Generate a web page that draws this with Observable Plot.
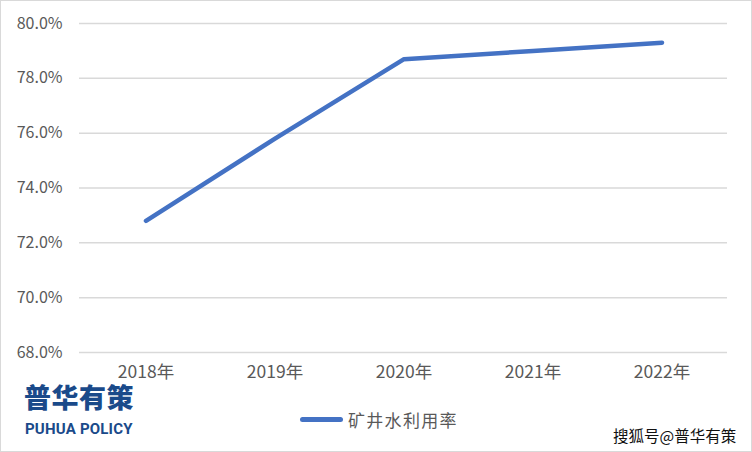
<!DOCTYPE html>
<html><head><meta charset="utf-8">
<script src="https://cdn.jsdelivr.net/npm/d3@7"></script>
<script src="https://cdn.jsdelivr.net/npm/@observablehq/plot@0.6"></script>
<style>
html,body{margin:0;padding:0;background:#fff;}
#wrap{position:relative;width:752px;height:452px;overflow:hidden;font-family:"Noto Sans CJK SC","Noto Sans",sans-serif;}
#frame{position:absolute;left:0;top:0;width:750px;height:450px;border:1px solid #d9d9d9;pointer-events:none;}
.abs{position:absolute;white-space:nowrap;}
</style></head>
<body><div id="wrap"><div id="chart"></div><div id="frame"></div></div>
<script>
const years = ["2018年","2019年","2020年","2021年","2022年"];
const rates = [72.8, 75.8, 78.7, 79.0, 79.3];
const yTicks = [68, 70, 72, 74, 76, 78, 80];
const seriesName = "矿井水利用率";
const logoCn = "普华有策";
const logoEn = "PUHUA POLICY";
const watermark = "搜狐号@普华有策";

const data = years.map((y, i) => ({year: y, rate: rates[i]}));
const chart = Plot.plot({
  width: 752, height: 452,
  marginLeft: 79, marginRight: 25, marginTop: 23, marginBottom: 100,
  style: {fontFamily: '"Noto Sans CJK SC","Noto Sans",sans-serif', fontSize: "16px", color: "#595959", background: "transparent"},
  x: {type: "band", domain: years, padding: 0, label: null, tickSize: 0, tickPadding: 13},
  y: {domain: [68, 80], ticks: yTicks, label: null, tickSize: 0, tickPadding: 17, tickFormat: d => d.toFixed(1) + "%"},
  marks: [
    Plot.ruleY(yTicks, {stroke: "#d9d9d9", strokeWidth: 1.5}),
    Plot.line(data, {x: "year", y: "rate", stroke: "#4472C4", strokeWidth: 4.5, strokeLinecap: "round", strokeLinejoin: "round"})
  ]
});
chart.querySelectorAll('[aria-label="x-axis tick label"] text').forEach(t => t.style.fontSize = "17.5px");
document.getElementById("chart").appendChild(chart);
const wrap = document.getElementById("wrap");
function add(text, css){const d=document.createElement("div");d.className="abs";d.textContent=text;Object.assign(d.style,css);wrap.appendChild(d);return d;}
add(logoCn, {left:"24px", top:"380px", fontSize:"27px", fontWeight:"900", color:"#1a4a8a", letterSpacing:"0.5px", lineHeight:"34px"});
add(logoEn, {left:"25px", top:"419px", fontSize:"15px", fontWeight:"700", color:"#1a4a8a", fontFamily:"Roboto,'Noto Sans',sans-serif", lineHeight:"20px", letterSpacing:"0.2px"});
const leg = document.createElement("div");
leg.className = "abs";
Object.assign(leg.style, {left:"300px", top:"407px", display:"flex", alignItems:"center"});
leg.innerHTML = '<span style="display:inline-block;width:43px;height:5px;border-radius:3px;background:#4472C4;margin-right:5px"></span>';
const lt = document.createElement("span"); lt.textContent = seriesName;
Object.assign(lt.style, {fontSize:"17px", color:"#595959", letterSpacing:"1.3px"});
leg.appendChild(lt); wrap.appendChild(leg);
add(watermark, {left:"613px", top:"424px", fontSize:"15.5px", color:"#111", lineHeight:"22px", textShadow:"0 0 2px #fff"});
</script></body></html>
